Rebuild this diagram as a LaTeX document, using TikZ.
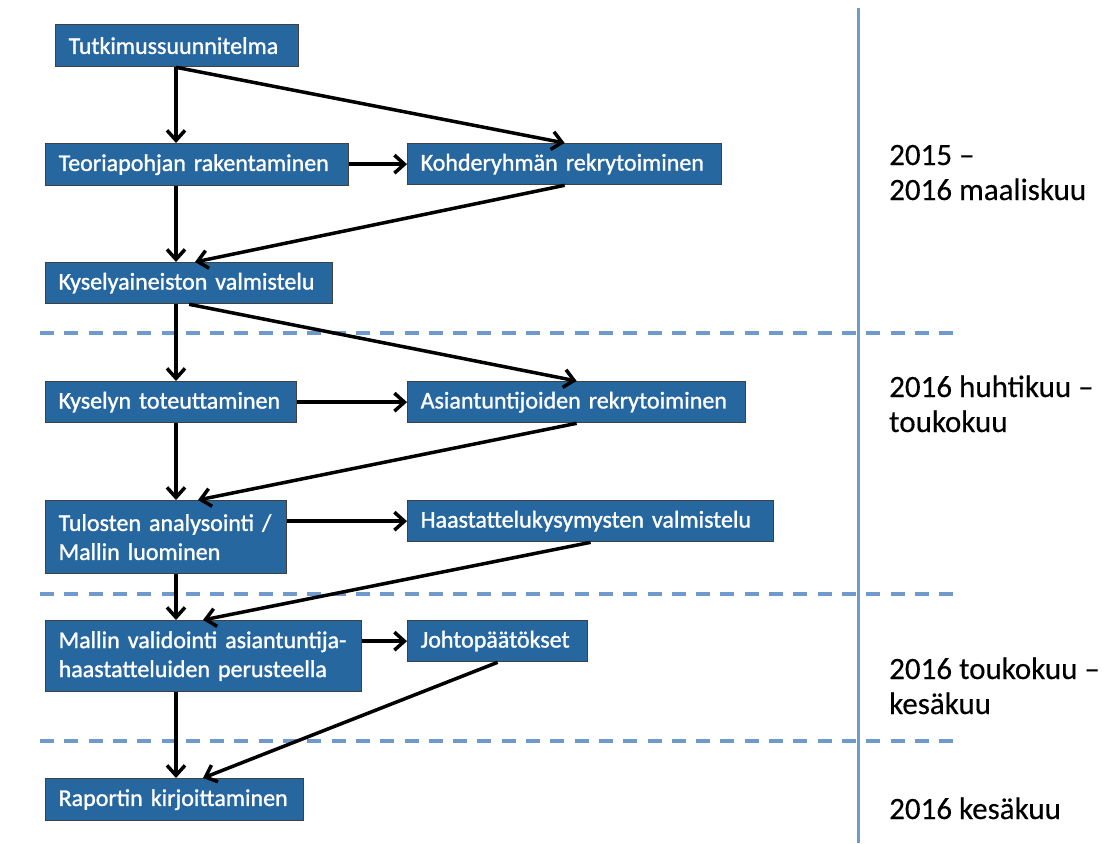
\documentclass[tikz,border=0pt]{standalone}
\usepackage{fontspec}
\setmainfont{Carlito}
\newfontfamily\stepfont[FakeBold=1.2]{Carlito}
\newfontfamily\periodfont[FakeBold=0.3]{Carlito}
\usetikzlibrary{arrows.meta,calc}
\definecolor{boxblue}{HTML}{2767A0}
\definecolor{lineblue}{HTML}{6F9BCC}
\tikzset{
  box/.style={draw=black!75, line width=1.3pt, fill=boxblue, text=white,
    anchor=north west, inner xsep=13pt, inner ysep=0pt, align=left,
    font=\stepfont\fontsize{24}{29}\selectfont},
  flow/.style={line width=3.5pt, -{Straight Barb[length=10pt,width=18pt,line width=3.5pt]}},
  phase/.style={draw=lineblue, line width=3.5pt, dash pattern=on 14pt off 10.3pt},
  period/.style={anchor=base west, inner sep=0pt, font=\periodfont\fontsize{31}{35}\selectfont}
}
\begin{document}
\begin{tikzpicture}[x=1pt,y=-1pt]
\useasboundingbox (0,0) rectangle (1107,843);
\fill[white] (0,0) rectangle (1107,843);

% phase separators and timeline
\coordinate (s1a) at (40,333); \coordinate (s1b) at (962,333);
\coordinate (s2a) at (40,594); \coordinate (s2b) at (962,594);
\coordinate (s3a) at (40,741); \coordinate (s3b) at (962,741);
\draw[phase] (s1a) -- (s1b);
\draw[phase] (s2a) -- (s2b);
\draw[phase] (s3a) -- (s3b);
\coordinate (ta) at (858,8); \coordinate (tb) at (858,843);
\draw[draw=lineblue, line width=3pt] (ta) -- (tb);

% process steps
\node[box, minimum width=243pt, minimum height=42pt, text width=217pt] (tut) at (55,24) {Tutkimussuunnitelma};
\node[box, minimum width=303pt, minimum height=42pt, text width=277pt] (teo) at (45,143) {Teoriapohjan rakentaminen};
\node[box, minimum width=314pt, minimum height=41pt, text width=288pt] (koh) at (407,143) {Kohderyhmän rekrytoiminen};
\node[box, minimum width=287pt, minimum height=41pt, text width=261pt] (kya) at (45,262) {Kyselyaineiston valmistelu};
\node[box, minimum width=251pt, minimum height=41pt, text width=225pt] (kyt) at (45,381) {Kyselyn toteuttaminen};
\node[box, minimum width=338pt, minimum height=41pt, text width=312pt] (asi) at (407,381) {Asiantuntijoiden rekrytoiminen};
\node[box, minimum width=241pt, minimum height=73pt, text width=215pt] (tul) at (45,500) {Tulosten analysointi /\\Mallin luominen};
\node[box, minimum width=366pt, minimum height=41pt, text width=340pt] (haa) at (407,500) {Haastattelukysymysten valmistelu};
\node[box, minimum width=316pt, minimum height=71pt, text width=290pt] (mal) at (45,620) {Mallin validointi asiantuntija-\\haastatteluiden perusteella};
\node[box, minimum width=180pt, minimum height=41pt, text width=154pt] (joh) at (407,620) {Johtopäätökset};
\node[box, minimum width=258pt, minimum height=42pt, text width=232pt] (rap) at (45,778) {Raportin kirjoittaminen};

% main column
\coordinate (col) at (176,0);
\draw[flow] (tut.south -| col) -- (teo.north -| col);
\draw[flow] (teo.south -| col) -- (kya.north -| col);
\draw[flow] (kya.south -| col) -- (kyt.north -| col);
\draw[flow] (kyt.south -| col) -- (tul.north -| col);
\draw[flow] (tul.south -| col) -- (mal.north -| col);
\draw[flow] (mal.south -| col) -- (rap.north -| col);

% side branches
\draw[flow] (tut.south -| col) -- (koh.north);
\draw[flow] (teo.east |- koh.west) -- (koh.west);
\draw[flow] (koh.south) -- ($(kya.north west)+(150,0)$);
\draw[flow] (kya.south) -- (asi.north);
\draw[flow] (kyt.east |- asi.west) -- (asi.west);
\draw[flow] (asi.south) -- ($(tul.north west)+(153,0)$);
\draw[flow] (tul.east |- haa.west) -- (haa.west);
\draw[flow] (haa.south) -- ($(mal.north west)+(158,0)$);
\draw[flow] (mal.east |- joh.west) -- (joh.west);
\draw[flow] (joh.south) -- ($(rap.north west)+(158,0)$);

% schedule
\node[period] (p1a) at (889,165) {2015 –};
\node[period] (p1b) at (889,200) {2016 maaliskuu};
\node[period] (p2a) at (889,397) {2016 huhtikuu –};
\node[period] (p2b) at (889,432) {toukokuu};
\node[period] (p3a) at (889,679) {2016 toukokuu –};
\node[period] (p3b) at (889,714) {kesäkuu};
\node[period] (p4) at (889,819) {2016 kesäkuu};
\end{tikzpicture}
\end{document}
